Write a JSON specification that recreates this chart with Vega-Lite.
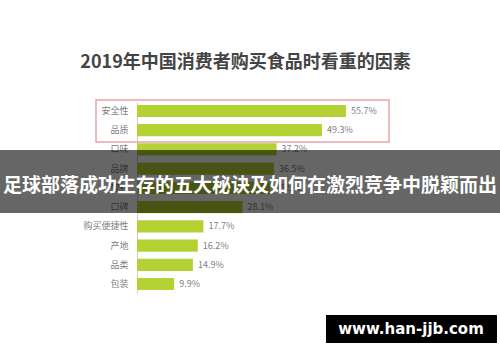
{
  "$schema": "https://vega.github.io/schema/vega-lite/v6.json",
  "autosize": {"type": "none"},
  "width": 363,
  "height": 191,
  "padding": {"left": 137, "top": 102, "right": 0, "bottom": 69},
  "background": "white",
  "config": {"view": {"stroke": null}, "font": "Noto Sans CJK SC"},
  "title": {
    "text": "2019年中国消费者购买食品时看重的因素",
    "anchor": "middle",
    "dx": -73,
    "offset": 27,
    "fontSize": 18,
    "fontWeight": "bold",
    "color": "#444444",
    "font": "Noto Sans CJK SC"
  },
  "data": {
    "values": [
      {"factor": "安全性", "pct": 55.7},
      {"factor": "品质", "pct": 49.3},
      {"factor": "口味", "pct": 37.2},
      {"factor": "品牌", "pct": 36.5},
      {"factor": "营养", "pct": 35.5},
      {"factor": "口碑", "pct": 28.1},
      {"factor": "购买便捷性", "pct": 17.7},
      {"factor": "产地", "pct": 16.2},
      {"factor": "品类", "pct": 14.9},
      {"factor": "包装", "pct": 9.9}
    ]
  },
  "encoding": {
    "y": {
      "field": "factor",
      "type": "nominal",
      "sort": null,
      "scale": {"paddingInner": 0.37, "paddingOuter": 0.15},
      "axis": {
        "title": null,
        "ticks": false,
        "labelPadding": 9,
        "labelFontSize": 9,
        "labelColor": "#808080",
        "labelFont": "Noto Sans CJK SC",
        "domainColor": "#cccccc",
        "domainWidth": 1
      }
    },
    "x": {
      "field": "pct",
      "type": "quantitative",
      "scale": {"domain": [0, 96.75], "nice": false},
      "axis": null
    }
  },
  "layer": [
    {"mark": {"type": "bar", "color": "#b4d234"}},
    {
      "transform": [{"calculate": "format(datum.pct, '.1f') + '%'", "as": "label"}],
      "mark": {"type": "text", "align": "left", "dx": 5, "fontSize": 9, "color": "#808080", "font": "Noto Sans CJK SC"},
      "encoding": {"text": {"field": "label", "type": "nominal"}}
    },
    {
      "data": {"values": [{"k": 1}]},
      "mark": {"type": "rect", "fill": null, "stroke": "#eaa4a8", "strokeWidth": 1.5},
      "encoding": {"x": {"value": -41}, "x2": {"value": 252}, "y": {"value": -2}, "y2": {"value": 40}}
    },
    {
      "data": {"values": [{"k": 1}]},
      "mark": {"type": "rect", "fill": "#000000", "opacity": 0.6},
      "encoding": {"x": {"value": -137}, "x2": {"value": 363}, "y": {"value": 48}, "y2": {"value": 111}}
    },
    {
      "data": {"values": [{"t": "足球部落成功生存的五大秘诀及如何在激烈竞争中脱颖而出"}]},
      "mark": {"type": "text", "color": "white", "fontSize": 19, "fontWeight": "bold", "font": "Noto Sans CJK SC", "align": "center", "baseline": "middle"},
      "encoding": {"text": {"field": "t"}, "x": {"value": 113}, "y": {"value": 84}}
    },
    {
      "data": {"values": [{"k": 1}]},
      "mark": {"type": "rect", "fill": "#000000"},
      "encoding": {"x": {"value": 189}, "x2": {"value": 360}, "y": {"value": 213}, "y2": {"value": 241}}
    },
    {
      "data": {"values": [{"t": "www.han-jjb.com"}]},
      "mark": {"type": "text", "color": "white", "fontSize": 15, "fontWeight": "bold", "font": "DejaVu Sans", "align": "center", "baseline": "middle"},
      "encoding": {"text": {"field": "t"}, "x": {"value": 274}, "y": {"value": 227}}
    }
  ]
}
